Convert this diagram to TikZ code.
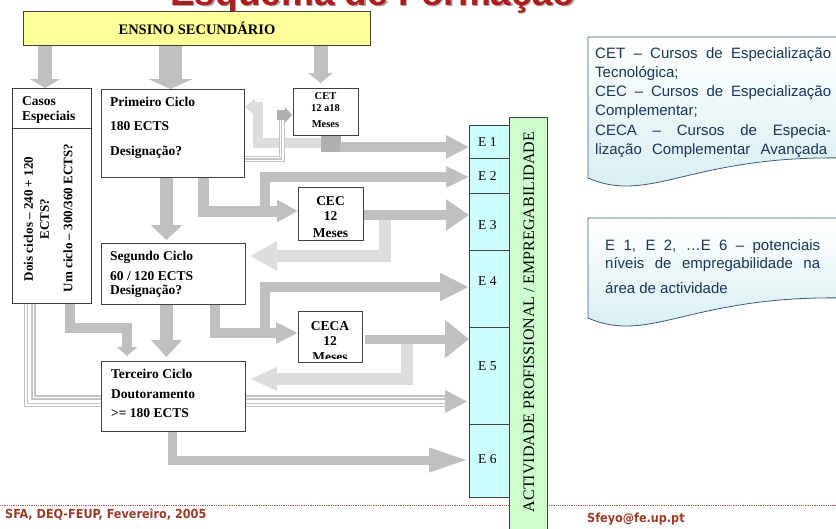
\documentclass[tikz,border=0pt]{standalone}
\usepackage{fontspec}
\setmainfont{Liberation Serif}
\newfontfamily\notefont{Liberation Sans}
\newfontfamily\footfont{DejaVu Sans Condensed}
\usetikzlibrary{arrows.meta}
\pgfdeclarelayer{bg}
\pgfsetlayers{bg,main}
\definecolor{agray}{HTML}{C0C0C0}
\definecolor{lgray}{HTML}{DDDDDD}
\definecolor{dgray}{HTML}{B0B0B0}
\definecolor{tgray}{HTML}{C4C4C4}
\definecolor{bline}{HTML}{404040}
\definecolor{yel}{HTML}{FFFF99}
\definecolor{ecyan}{HTML}{CCFFFF}
\definecolor{egreen}{HTML}{CCFFCC}
\definecolor{navy}{HTML}{1A355C}
\definecolor{footred}{HTML}{9A3B28}
\definecolor{dotred}{HTML}{C0504D}
\definecolor{titlered}{HTML}{B01C1C}
\definecolor{notefill}{HTML}{D3EDF0}
\definecolor{noteline}{HTML}{3A5A80}
\begin{document}
\begin{tikzpicture}[x=1pt,y=-1pt,
  box/.style={draw=bline,line width=0.9pt,fill=white,inner sep=0pt,anchor=north west},
  erow/.style={draw=bline,line width=0.8pt,fill=ecyan,inner sep=0pt,anchor=north west,minimum width=41pt},
  bt/.style={font=\bfseries\fontsize{13.5}{15}\selectfont,anchor=base west,inner sep=0pt},
  ct/.style={font=\bfseries\fontsize{13.5}{15}\selectfont,anchor=base,inner sep=0pt},
  st/.style={font=\bfseries\fontsize{10.5}{12}\selectfont,anchor=base,inner sep=0pt},
  et/.style={font=\fontsize{13.5}{15}\selectfont,anchor=base west,inner sep=0pt},
  nt/.style={font=\notefont\fontsize{15}{18}\selectfont,text=navy,anchor=base west,inner sep=0pt},
  ft/.style={font=\footfont\bfseries\fontsize{12.5}{14}\selectfont,text=footred,anchor=base west,inner sep=0pt},
  arr/.style n args={3}{draw=agray,line width=#1,line join=miter,-{Triangle[length=#2,width=#3]}},
  larr/.style n args={3}{draw=lgray,line width=#1,line join=miter,-{Triangle[length=#2,width=#3]}},
  bigtriple/.style={draw=tgray,line width=12pt,line join=miter,
    postaction={draw=white,line width=9pt},
    postaction={draw=tgray,line width=6pt},
    postaction={draw=white,line width=3pt}},
  smalltriple/.style={draw=tgray,line width=6pt,line join=miter,
    postaction={draw=white,line width=4pt},
    postaction={draw=tgray,line width=1.6pt}},
  note/.style={draw=noteline,line width=0.8pt,top color=white,bottom color=notefill}
]
\useasboundingbox (0,0) rectangle (836,528);

% title (cut off at the top)
\node[anchor=base west,inner sep=0pt,font=\notefont\bfseries\fontsize{37}{40}\selectfont,text=black!35] (titleshadow) at (171.5,6.5) {Esquema de Formação};
\node[anchor=base west,inner sep=0pt,font=\notefont\bfseries\fontsize{37}{40}\selectfont,text=titlered] (title) at (170,5) {Esquema de Formação};

% footer line
\draw[dotred,densely dotted,line width=0.8pt] (0,505) -- (836,505);

% boxes
\node[box,fill=yel,minimum width=347pt,minimum height=34pt,font=\bfseries\fontsize{14.5}{16}\selectfont] (ens) at (23,11) {ENSINO SECUNDÁRIO};
\node[box,minimum width=79pt,minimum height=215pt] (casos) at (12,88) {};
\node[box,minimum width=143pt,minimum height=88pt] (prim) at (101,89) {};
\node[box,minimum width=65pt,minimum height=47pt] (cet) at (293,88) {};
\node[box,minimum width=65pt,minimum height=53pt] (cec) at (298,187) {};
\node[box,minimum width=144pt,minimum height=61pt] (seg) at (101,243) {};
\node[box,minimum width=64pt,minimum height=51pt] (ceca) at (298,311) {};
\node[box,minimum width=144pt,minimum height=70pt] (ter) at (101,361) {};

% E column and green column
\node[erow,minimum height=33pt] (e1) at (469,125) {};
\node[erow,minimum height=35pt] (e2) at (469,158) {};
\node[erow,minimum height=57pt] (e3) at (469,193) {};
\node[erow,minimum height=77pt] (e4) at (469,250) {};
\node[erow,minimum height=97pt] (e5) at (469,327) {};
\node[erow,minimum height=73pt] (e6) at (469,424) {};
\node[draw=bline,line width=0.8pt,fill=egreen,inner sep=0pt,anchor=north west,minimum width=38pt,minimum height=425pt] (act) at (509,117) {};
\node[rotate=90,inner sep=0pt,font=\fontsize{16}{18}\selectfont] (actlbl) at (529,322) {ACTIVIDADE PROFISSIONAL / EMPREGABILIDADE};

\begin{pgfonlayer}{bg}
% light grey return arrows
\draw[larr={10pt}{10pt}{16pt}] (334,142.5) -- (258,142.5) -- (258,107) -- (prim.east |- 0,107);
\draw[larr={12pt}{27pt}{28pt}] (cec.east -| 384.5,0) -- (384.5,256) -- (250,256);
\draw[larr={12pt}{27pt}{22pt}] (ceca.east -| 406.5,0) -- (406.5,379) -- (250,379);

% triple lines
\draw[smalltriple] (prim.east |- 0,159) -- (281.5,159) -- (281.5,119);
\fill[dgray] (277,120) -- (277,110) -- (285,110) -- (285,107) -- (292,115) -- (285,123) -- (285,120) -- cycle;
\draw[bigtriple] (casos.south -| 29.5,0) -- (29.5,401) -- (445,401);
\fill[agray] (445,390) -- (467,401.5) -- (445,413) -- cycle;

% medium grey arrows
\draw[arr={14pt}{9pt}{30pt}] (ens.south -| 45,0) -- (casos.north -| 45,0);
\draw[arr={23pt}{10pt}{44pt}] (ens.south -| 170.5,0) -- (prim.north -| 170.5,0);
\draw[arr={14pt}{10pt}{24pt}] (ens.south -| 320.5,0) -- (320.5,83);
\fill[dgray] (321,135) rectangle (341,152);
\draw[arr={10pt}{23pt}{22pt}] (340,147) -- (e1.west |- 0,147);
\draw[arr={13pt}{15pt}{31pt}] (prim.south -| 166.5,0) -- (166.5,240);
\draw[arr={11pt}{21pt}{21pt}] (prim.south -| 203,0) -- (203,211) -- (cec.west |- 0,211);
\draw[arr={10pt}{23pt}{20pt}] (265,216) -- (265,177) -- (e2.west |- 0,177);
\draw[arr={10pt}{23pt}{30pt}] (cec.east |- 0,215) -- (e3.west |- 0,215);
\draw[arr={13pt}{17pt}{30pt}] (seg.south -| 166.5,0) -- (166.5,357);
\draw[arr={10pt}{22pt}{20pt}] (seg.south -| 215,0) -- (215,333) -- (ceca.west |- 0,333);
\draw[arr={10pt}{29pt}{26pt}] (265,338) -- (265,287) -- (e4.west |- 0,287);
\draw[arr={9pt}{24pt}{37pt}] (365,339) -- (e5.west |- 0,339);
\draw[arr={10pt}{9pt}{20pt}] (casos.south -| 69.5,0) -- (69.5,328) -- (127,328) -- (127,356);
\draw[arr={9pt}{40pt}{22pt}] (ter.south -| 172,0) -- (172,460) -- (e6.west |- 0,460);
\end{pgfonlayer}

% Casos Especiais
\draw[bline,line width=0.9pt] (casos.west |- 0,128) -- (casos.east |- 0,128);
\node[bt] at (22,105) {Casos};
\node[bt] at (22,120) {Especiais};
\node[rotate=90,inner sep=0pt,align=center,font=\bfseries\fontsize{13}{16}\selectfont] (casosa) at (36.5,219) {Dois ciclos – 240 + 120\\ECTS?};
\node[rotate=90,inner sep=0pt,font=\bfseries\fontsize{13}{16}\selectfont] (casosb) at (68,218) {Um ciclo – 300/360 ECTS?};

% Primeiro
\node[bt] at (110,106.5) {Primeiro Ciclo};
\node[bt] at (110,130.5) {180 ECTS};
\node[bt] at (110,155) {Designação?};
% Segundo
\node[bt] at (110,260) {Segundo Ciclo};
\node[bt] at (110,280) {60 / 120 ECTS};
\node[bt] at (110,294) {Designação?};
% Terceiro
\node[bt] at (111,378) {Terceiro Ciclo};
\node[bt] at (111,398) {Doutoramento};
\node[bt] at (111,417) {>= 180 ECTS};
% CET
\node[st] at (325.5,99.5) {CET};
\node[st] at (325.5,111.5) {12 a18};
\node[st] at (325.5,127) {Meses};
% CEC
\node[ct] at (330.5,205) {CEC};
\node[ct] at (330.5,220) {12};
\node[ct] at (330.5,237) {Meses};
% CECA
\begin{scope}
\clip (299,312) rectangle (361,358);
\node[ct] at (330,330) {CECA};
\node[ct] at (330,345) {12};
\node[ct] at (330,361) {Meses};
\end{scope}

% E labels
\node[et] at (478,146) {E 1};
\node[et] at (478,180) {E 2};
\node[et] at (478,229) {E 3};
\node[et] at (478,285) {E 4};
\node[et] at (478,370) {E 5};
\node[et] at (478,463) {E 6};

% notes
\path[note] (588,37) -- (845,37) -- (845,158) .. controls (690,155) and (650,205) .. (588,178) -- cycle;
\path[note] (588,218) -- (845,218) -- (845,298) .. controls (690,295) and (650,345) .. (588,318) -- cycle;
\node[nt] at (595,58) {\makebox[236pt][s]{CET – Cursos de Especialização}};
\node[nt] at (595,77.5) {Tecnológica;};
\node[nt] at (595,96.7) {\makebox[236pt][s]{CEC – Cursos de Especialização}};
\node[nt] at (595,115.5) {Complementar;};
\node[nt] at (595,135) {\makebox[236pt][s]{CECA – Cursos de Especia-}};
\node[nt] at (595,154) {\makebox[232pt][s]{lização Complementar Avançada}};
\node[nt] at (605,250) {\makebox[215pt][s]{E 1, E 2, …E 6 – potenciais}};
\node[nt] at (605,268) {\makebox[215pt][s]{níveis de empregabilidade na}};
\node[nt] at (605,293) {área de actividade};

% footer
\node[ft] at (5,518) {SFA, DEQ-FEUP, Fevereiro, 2005};
\node[ft] at (587,522) {Sfeyo@fe.up.pt};
\end{tikzpicture}
\end{document}
